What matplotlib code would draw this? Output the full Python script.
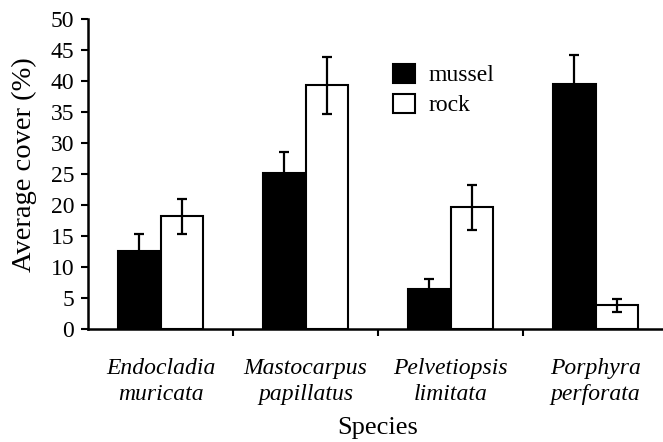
import matplotlib.pyplot as plt
import numpy as np

species = ["Endocladia\nmuricata", "Mastocarpus\npapillatus",
           "Pelvetiopsis\nlimitata", "Porphyra\nperforata"]
mussel = [12.6, 25.2, 6.4, 39.5]
mussel_err = [2.7, 3.3, 1.6, 4.7]
rock = [18.2, 39.3, 19.6, 3.8]
rock_err = [2.8, 4.6, 3.6, 1.1]

plt.rcParams['font.family'] = ['Liberation Serif', 'DejaVu Serif']

fig = plt.figure(figsize=(6.63, 4.42), dpi=100)
ax = fig.add_axes([88 / 663, 113 / 442, 580 / 663, 310 / 442])

x = np.arange(len(species))
w = 0.29
err_kw = dict(ecolor='black', elinewidth=1.6, capsize=3.6, capthick=1.6)
ax.bar(x - w / 2, mussel, w, yerr=mussel_err, color='black', edgecolor='black',
       linewidth=1.5, error_kw=err_kw, label='mussel')
ax.bar(x + w / 2, rock, w, yerr=rock_err, color='white', edgecolor='black',
       linewidth=1.5, error_kw=err_kw, label='rock')

ax.set_xlim(-0.5, 3.5)
ax.set_ylim(0, 50)
ax.set_yticks(range(0, 51, 5))
ax.set_xticks(x)
ax.set_xticklabels(species, fontstyle='italic', fontsize=17, linespacing=1.3)
ax.set_xticks([0.5, 1.5, 2.5], minor=True)
ax.tick_params(axis='x', which='major', length=0, pad=21)
ax.tick_params(axis='x', which='minor', length=5, width=1.5, direction='out')
ax.tick_params(axis='y', length=5, width=1.5, direction='out', labelsize=17, pad=5)

for s in ['top', 'right']:
    ax.spines[s].set_visible(False)
for s in ['left', 'bottom']:
    ax.spines[s].set_linewidth(1.8)

ax.set_xlabel('Species', fontsize=19, labelpad=9)
ax.set_ylabel('Average cover (%)', fontsize=20.5)
ax.yaxis.set_label_coords(-0.088, 0.53)

ax.legend(loc='upper left', bbox_to_anchor=(0.49, 0.925), frameon=False,
          fontsize=17, handlelength=0.9, handleheight=0.9, labelspacing=0.3,
          handletextpad=0.6)

fig.savefig('out.png', dpi=100)
